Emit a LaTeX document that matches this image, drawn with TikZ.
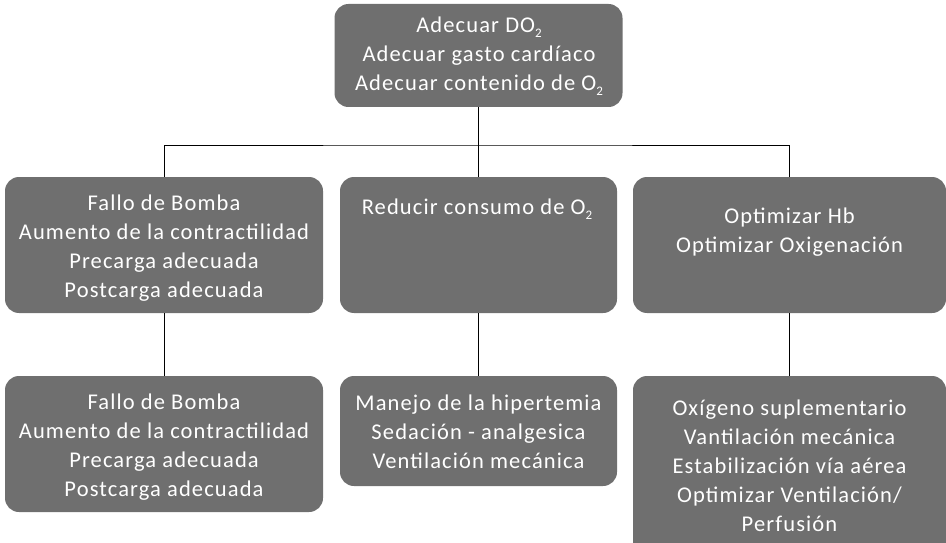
\documentclass[tikz,border=0pt]{standalone}
\usepackage{fontspec}
\setmainfont{Carlito}[LetterSpace=5]
\definecolor{boxgray}{RGB}{111,111,111}
\tikzset{
  box/.style={rectangle, rounded corners=14pt, fill=boxgray, draw=none, inner sep=0pt},
  txt/.style={text=white, align=center, inner sep=0pt, font=\fontsize{22.5}{29}\selectfont},
  conn/.style={draw=black, line width=0.9pt}
}
\newcommand{\subtwo}{\raisebox{-0.45ex}{\fontsize{13}{13}\selectfont 2}}
\begin{document}
\begin{tikzpicture}[x=1pt,y=-1pt]
\useasboundingbox (0,0) rectangle (946,543);
% boxes
\node[box, minimum width=288pt, minimum height=103pt] (top) at (478.5,55.5) {};
\node[box, minimum width=318pt, minimum height=136pt] (L2) at (164,245) {};
\node[box, minimum width=277pt, minimum height=136pt] (M2) at (478.5,245) {};
\node[box, minimum width=313pt, minimum height=136pt] (R2) at (789.5,245) {};
\node[box, minimum width=318pt, minimum height=136pt] (L3) at (164,444) {};
\node[box, minimum width=277pt, minimum height=110pt] (M3) at (478.5,431) {};
\node[box, minimum width=313pt, minimum height=190pt] (R3) at (789.5,471) {};
% texts
\node[txt] (ttop) at (479,56) {Adecuar DO\subtwo\\Adecuar gasto cardíaco\\Adecuar contenido de O\subtwo};
\node[txt] (tL2) at (164,248) {Fallo de Bomba\\Aumento de la contractilidad\\Precarga adecuada\\Postcarga adecuada};
\node[txt] (tM2) at (477,209) {Reducir consumo de O\subtwo};
\node[txt] (tR2) at (789.5,232) {Optimizar Hb\\Optimizar Oxigenación};
\node[txt] (tL3) at (164,447) {Fallo de Bomba\\Aumento de la contractilidad\\Precarga adecuada\\Postcarga adecuada};
\node[txt] (tM3) at (478.5,432) {Manejo de la hipertemia\\Sedación - analgesica\\Ventilación mecánica};
\node[txt] (tR3) at (789.5,466) {Oxígeno suplementario\\Vantilación mecánica\\Estabilización vía aérea\\Optimizar Ventilación/\\Perfusión};
% connectors
\coordinate (j) at (478.5,145);
\draw[conn] (top.south) -- (j);
\draw[conn] (L2.north) |- (j) -| (R2.north);
\draw[conn] (j) -- (M2.north);
\draw[conn] (L2.south) -- (L3.north);
\draw[conn] (M2.south) -- (M3.north);
\draw[conn] (R2.south) -- (R3.north);
\end{tikzpicture}
\end{document}
